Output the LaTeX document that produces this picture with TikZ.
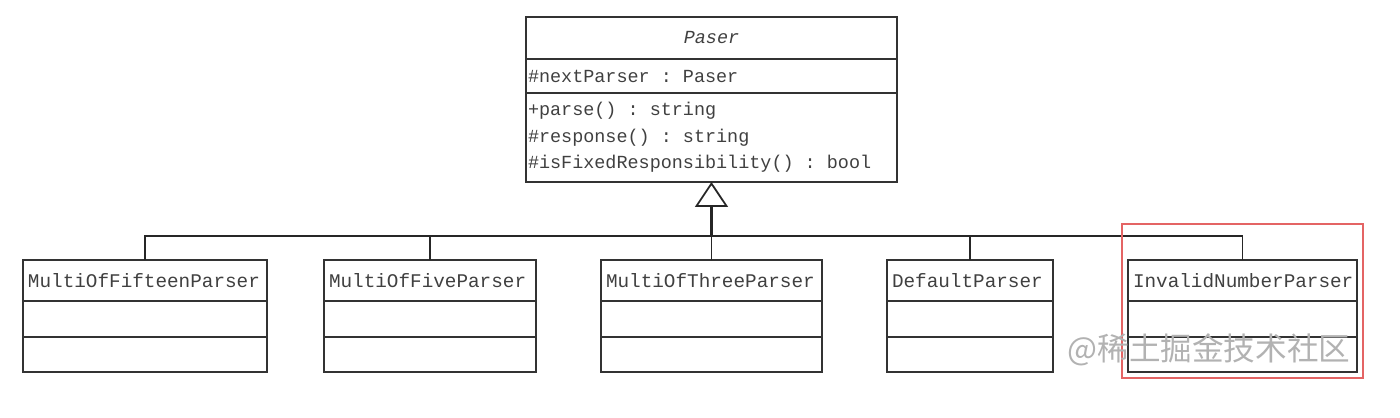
\documentclass[tikz,border=0pt]{standalone}
\usepackage{fontspec}
\setmonofont{Liberation Mono}
\newfontfamily\cjkfont{Noto Sans CJK SC}
\usepackage{tikz}
\usetikzlibrary{positioning,arrows.meta}
\definecolor{hilite}{RGB}{228,100,100}
\newcommand\ttgap{\hspace*{0.6em}}

\begin{document}
\begin{tikzpicture}[x=0.02cm, y=-0.02cm,
    cls/.style={draw=black!80, line width=1pt, anchor=north west, inner ysep=0pt, inner xsep=0.1cm,
                outer sep=0pt, align=left, text=black!75, font=\ttfamily\fontsize{11}{13}\selectfont},
    top/.style={cls, inner xsep=0.04cm, text width=7.34cm, font=\ttfamily\fontsize{10.5}{15}\selectfont},
    part/.style={draw=black!80, line width=1pt, inner sep=0pt, outer sep=0pt},
    link/.style={draw=black!85, line width=1pt},
    inherit/.style={link, line width=1.6pt, -{Triangle[open, width=0.66cm, length=0.5cm, line width=1pt]}},
  ]
    \useasboundingbox (0,0) rectangle (1400,417);

    % abstract parser
    \node[cls, align=center, minimum width=7.42cm, minimum height=0.84cm,
          font=\ttfamily\itshape\fontsize{10.5}{13}\selectfont] (paser) at (526,17) {Paser};
    \node[top, minimum height=0.68cm, below=0pt of paser] (paserA) {\#nextParser\ttgap:\ttgap Paser};
    \node[top, minimum height=1.78cm, below=0pt of paserA] (paserM)
        {+parse()\ttgap:\ttgap string\\\#response()\ttgap:\ttgap string\\\#isFixedResponsibility()\ttgap:\ttgap bool};

    % concrete parsers
    \node[cls, text width=4.68cm, minimum height=0.82cm] (fifteen) at (23,260) {MultiOfFifteenParser};
    \node[part, minimum width=4.88cm, minimum height=0.72cm, below=0pt of fifteen] (fifteenA) {};
    \node[part, minimum width=4.88cm, minimum height=0.70cm, below=0pt of fifteenA] (fifteenM) {};

    \node[cls, text width=4.04cm, minimum height=0.82cm] (five) at (324,260) {MultiOfFiveParser};
    \node[part, minimum width=4.24cm, minimum height=0.72cm, below=0pt of five] (fiveA) {};
    \node[part, minimum width=4.24cm, minimum height=0.70cm, below=0pt of fiveA] (fiveM) {};

    \node[cls, text width=4.22cm, minimum height=0.82cm] (three) at (601,260) {MultiOfThreeParser};
    \node[part, minimum width=4.42cm, minimum height=0.72cm, below=0pt of three] (threeA) {};
    \node[part, minimum width=4.42cm, minimum height=0.70cm, below=0pt of threeA] (threeM) {};

    \node[cls, text width=3.12cm, minimum height=0.82cm] (default) at (887,260) {DefaultParser};
    \node[part, minimum width=3.32cm, minimum height=0.72cm, below=0pt of default] (defaultA) {};
    \node[part, minimum width=3.32cm, minimum height=0.70cm, below=0pt of defaultA] (defaultM) {};

    \node[cls, text width=4.38cm, minimum height=0.82cm] (invalid) at (1128,260) {InvalidNumberParser};
    \node[part, minimum width=4.58cm, minimum height=0.72cm, below=0pt of invalid] (invalidA) {};
    \node[part, minimum width=4.58cm, minimum height=0.70cm, below=0pt of invalidA] (invalidM) {};

    % generalisation
    \coordinate (bus) at (three.north |- 0,236);
    \draw[link] (three.north) -- (bus);
    \draw[inherit] (bus) -- (bus |- paserM.south);
    \draw[link] (fifteen.north) |- (bus) -| (invalid.north);
    \draw[link] (five.north) -- (five.north |- bus);
    \draw[link] (default.north) -- (default.north |- bus);

    \node[draw=hilite, line width=1pt, anchor=north west, minimum width=4.82cm, minimum height=3.08cm]
        (highlight) at (1121,223) {};
    \node[font=\cjkfont\fontsize{18}{18}\selectfont, text=black!30] (watermark) at (1209,350) {@稀土掘金技术社区};
  \end{tikzpicture}
\end{document}
